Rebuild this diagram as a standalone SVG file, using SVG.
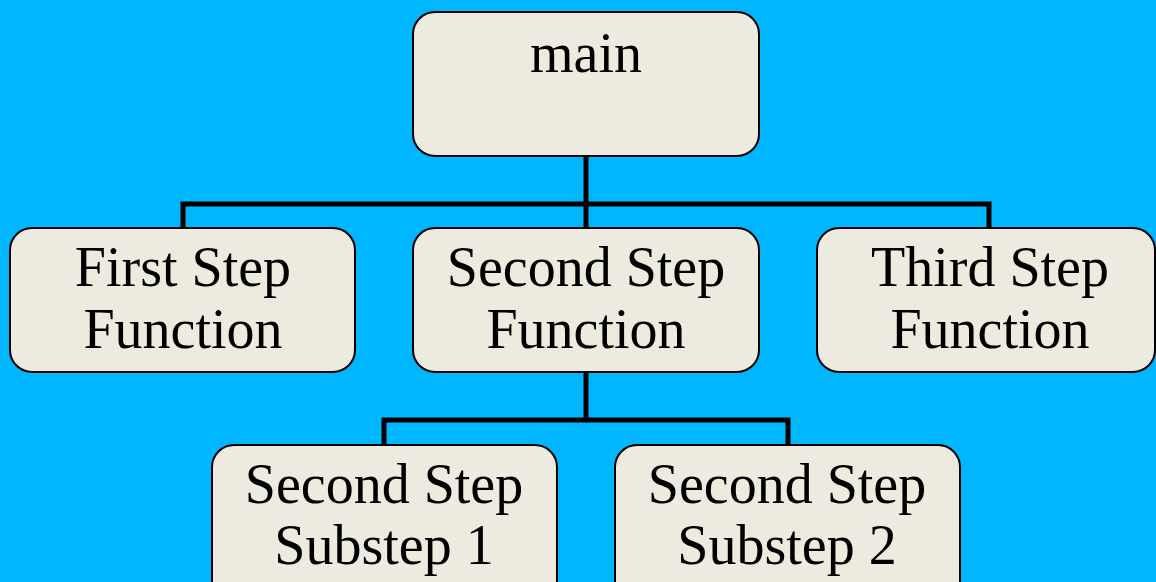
<svg xmlns="http://www.w3.org/2000/svg" width="1156" height="582" viewBox="0 0 1156 582">
  <style>
    .box { fill: #EDEBE0; stroke: #000; stroke-width: 2; }
    .lbl { font-family: "Liberation Serif", "Times New Roman", serif; font-size: 56px; fill: #000; text-anchor: middle; }
    .wire { fill: none; stroke: #000; stroke-width: 5; }
  </style>
  <rect width="1156" height="582" fill="#00B6FF"/>

  <!-- connectors -->
  <g id="connectors">
    <path class="wire" d="M586 156 V228"/>
    <path class="wire" d="M183 228 V204 H989 V228"/>
    <path class="wire" d="M586 372 V420"/>
    <path class="wire" d="M384 445 V420 H788 V445"/>
  </g>

  <g id="main">
    <rect class="box" x="413" y="12" width="346" height="144" rx="22"/>
    <text class="lbl" x="586" y="72">main</text>
  </g>

  <g id="first-step">
    <rect class="box" x="10" y="228" width="345" height="144" rx="22"/>
    <text class="lbl" x="183" y="286">First Step</text>
    <text class="lbl" x="183" y="348">Function</text>
  </g>

  <g id="second-step">
    <rect class="box" x="413" y="228" width="346" height="144" rx="22"/>
    <text class="lbl" x="586" y="286">Second Step</text>
    <text class="lbl" x="586" y="348">Function</text>
  </g>

  <g id="third-step">
    <rect class="box" x="817" y="228" width="338" height="144" rx="22"/>
    <text class="lbl" x="990" y="286">Third Step</text>
    <text class="lbl" x="990" y="348">Function</text>
  </g>

  <g id="substep-1">
    <rect class="box" x="212" y="445" width="345" height="160" rx="22"/>
    <text class="lbl" x="384" y="503">Second Step</text>
    <text class="lbl" x="384" y="564">Substep 1</text>
  </g>

  <g id="substep-2">
    <rect class="box" x="615" y="445" width="345" height="160" rx="22"/>
    <text class="lbl" x="787" y="503">Second Step</text>
    <text class="lbl" x="787" y="564">Substep 2</text>
  </g>
</svg>
